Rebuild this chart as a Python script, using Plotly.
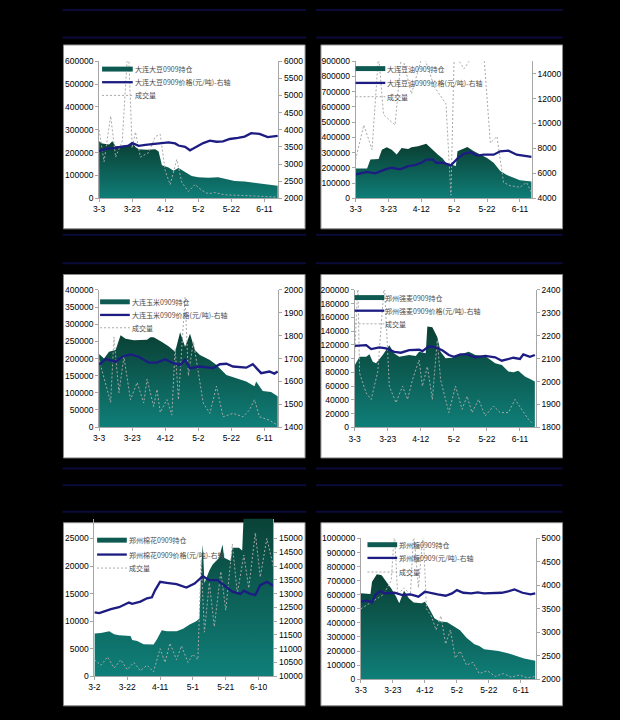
import plotly.graph_objects as go

# ---------------- data (2009, contract 0909) ----------------
X_TICKS = ["3-3", "3-23", "4-12", "5-2", "5-22", "6-11"]
X_TICKS_COTTON = ["3-2", "3-22", "4-11", "5-1", "5-21", "6-10"]

# 大连大豆
SOY_OI_DATES = ["3-3", "3-5", "3-9", "3-11", "3-13", "3-17", "3-20", "3-23", "3-25", "3-27", "4-1", "4-6", "4-8",
                "4-10", "4-14", "4-17", "4-20", "4-24", "4-28", "5-2", "5-8", "5-14", "5-18", "5-24", "5-30", "6-5",
                "6-10", "6-15", "6-19"]
SOY_OI = [250000, 240000, 235000, 250000, 228000, 230000, 232000, 242000, 225000, 215000, 212000, 215000, 205000,
          145000, 135000, 120000, 132000, 115000, 98000, 92000, 90000, 92000, 85000, 76000, 73000, 68000,
          62000, 58000, 55000]
SOY_PX_DATES = ["3-3", "3-8", "3-13", "3-17", "3-21", "3-23", "3-27", "3-31", "4-4", "4-8", "4-14", "4-18", "4-20",
                "4-24", "4-27", "4-29", "5-2", "5-5", "5-9", "5-13", "5-17", "5-21", "5-26", "5-30", "6-3", "6-8",
                "6-13", "6-19"]
SOY_PX = [3380, 3450, 3470, 3500, 3540, 3610, 3530, 3560, 3580, 3610, 3630, 3600, 3540,
          3500, 3400, 3450, 3530, 3610, 3680, 3650, 3660, 3730, 3760, 3800, 3900, 3880,
          3785, 3820]
SOY_VOL_DATES = ["3-3", "3-6", "3-10", "3-13", "3-17", "3-20", "3-21", "3-23", "3-25", "3-28", "4-2", "4-6", "4-9",
                 "4-12", "4-15", "4-19", "4-22", "4-26", "4-30", "5-4", "5-8", "5-12", "5-18", "5-24", "5-30",
                 "6-5", "6-11", "6-19"]
SOY_VOL = [300000, 160000, 360000, 180000, 250000, 610000, 610000, 220000, 290000, 180000, 200000, 270000, 280000,
           120000, 60000, 170000, 70000, 30000, 60000, 35000, 20000, 25000, 15000, 15000, 12000,
           10000, 8000, 5000]

# 大连豆油
SOYOIL_OI_DATES = ["3-3", "3-10", "3-12", "3-17", "3-19", "3-22", "3-25", "3-28", "3-31", "4-4", "4-6", "4-10",
                   "4-15", "4-18", "4-22", "4-25", "4-27", "4-30", "5-3", "5-4", "5-10", "5-14", "5-18", "5-22",
                   "5-26", "5-30", "6-3", "6-7", "6-11", "6-18"]
SOYOIL_OI = [196000, 196000, 254000, 258000, 319000, 335000, 319000, 287000, 330000, 323000, 335000, 341000,
             358000, 326000, 287000, 261000, 233000, 222000, 212000, 309000, 337000, 309000, 287000, 265000,
             233000, 179000, 153000, 136000, 118000, 110000]
SOYOIL_PX_DATES = ["3-3", "3-10", "3-15", "3-21", "3-25", "3-30", "4-4", "4-8", "4-12", "4-15", "4-19", "4-21",
                   "4-25", "4-30", "5-4", "5-8", "5-12", "5-16", "5-20", "5-26", "5-30", "6-4", "6-9", "6-14", "6-18"]
SOYOIL_PX = [5920, 6110, 6000, 6320, 6450, 6320, 6580, 6660, 6850, 7110, 7110, 6850,
             6850, 6640, 7190, 7580, 7690, 7430, 7500, 7500, 7770, 7820, 7500, 7430, 7320]
SOYOIL_VOL_DATES = ["3-3", "3-8", "3-13", "3-17", "3-20", "3-27", "3-31", "4-6", "4-13", "4-20", "4-27", "4-30",
                    "5-2", "5-8", "5-14", "5-20", "5-24", "5-28", "6-1", "6-5", "6-11", "6-15", "6-18"]
SOYOIL_VOL = [254000, 481000, 319000, 950000, 550000, 481000, 950000, 686000, 950000, 730000, 620000, 20000,
              950000, 850000, 950000, 950000, 363000, 406000, 104000, 83000, 72000, 104000, 39000]

# 大连玉米
CORN_OI_DATES = ["3-3", "3-6", "3-9", "3-13", "3-16", "3-19", "3-24", "3-29", "4-1", "4-3", "4-5", "4-10", "4-14",
                 "4-18", "4-21", "4-24", "4-27", "4-30", "5-3", "5-9", "5-13", "5-19", "5-25", "5-31", "6-5", "6-6",
                 "6-10", "6-15", "6-19"]
CORN_OI = [213000, 200000, 220000, 225000, 268000, 258000, 253000, 253000, 255000, 262000, 262000, 248000, 236000,
           220000, 277000, 234000, 272000, 224000, 210000, 196000, 181000, 152000, 143000, 133000, 119000, 133000,
           105000, 102000, 90000]
CORN_PX_DATES = ["3-3", "3-7", "3-13", "3-17", "3-22", "3-27", "4-2", "4-7", "4-12", "4-16", "4-21", "4-24", "4-27",
                 "5-3", "5-11", "5-15", "5-19", "5-23", "5-31", "6-4", "6-9", "6-14", "6-17", "6-19"]
CORN_PX = [1672, 1697, 1686, 1708, 1718, 1708, 1682, 1682, 1697, 1682, 1672, 1694, 1658,
           1665, 1658, 1675, 1677, 1665, 1660, 1675, 1636, 1643, 1634, 1643]
CORN_VOL_DATES = ["3-3", "3-10", "3-12", "3-15", "3-18", "3-22", "3-26", "3-30", "4-1", "4-5", "4-7", "4-9", "4-13",
                  "4-16", "4-18", "4-20", "4-24", "4-26", "4-29", "5-5", "5-9", "5-13", "5-17", "5-23", "5-29",
                  "6-2", "6-5", "6-8", "6-14", "6-19"]
CORN_VOL = [196000, 72000, 263000, 100000, 205000, 80000, 130000, 70000, 140000, 60000, 110000, 43000, 80000,
            35000, 230000, 80000, 378000, 150000, 250000, 70000, 40000, 119000, 30000, 40000, 30000,
            50000, 80000, 30000, 20000, 5000]

# 郑州强麦
WHEAT_OI_DATES = ["3-3", "3-6", "3-10", "3-12", "3-14", "3-16", "3-20", "3-24", "3-27", "3-30", "4-5", "4-9",
                  "4-11", "4-15", "4-16", "4-19", "4-22", "4-24", "4-27", "5-1", "5-5", "5-11", "5-15", "5-21",
                  "5-27", "5-31", "6-4", "6-7", "6-10", "6-14", "6-18", "6-20"]
WHEAT_OI = [90000, 102800, 102800, 106300, 95600, 93300, 105300, 119600, 107700, 102800, 105300, 104000,
            110000, 108000, 146900, 145600, 131500, 110000, 100500, 101200, 105300, 110000, 105300, 104000,
            93300, 90900, 81300, 80300, 82300, 74100, 69400, 66900]
WHEAT_PX_DATES = ["3-3", "3-10", "3-13", "3-18", "3-22", "3-27", "3-31", "4-5", "4-11", "4-13", "4-17", "4-21",
                  "4-25", "4-29", "5-2", "5-6", "5-10", "5-15", "5-21", "5-27", "5-31", "6-4", "6-7", "6-11",
                  "6-13", "6-17", "6-20"]
WHEAT_PX = [2156, 2159, 2142, 2149, 2145, 2130, 2126, 2137, 2139, 2133, 2154, 2149,
            2137, 2116, 2108, 2119, 2119, 2106, 2112, 2106, 2091, 2097, 2104, 2099,
            2119, 2108, 2116]
WHEAT_VOL_DATES = ["3-3", "3-5", "3-6", "3-10", "3-13", "3-17", "3-21", "3-24", "3-28", "4-1", "4-4", "4-7",
                   "4-11", "4-13", "4-16", "4-19", "4-22", "4-24", "4-29", "5-3", "5-7", "5-10", "5-13", "5-17",
                   "5-21", "5-26", "5-30", "6-4", "6-8", "6-12", "6-16", "6-19"]
WHEAT_VOL = [103000, 210000, 79000, 50000, 40600, 81000, 210000, 60000, 35900, 60000, 40600, 69400,
             98000, 60000, 88500, 40600, 127000, 69400, 21500, 60000, 26300, 45400, 21500, 40600,
             16700, 31000, 21500, 21500, 40600, 26300, 12000, 4700]

# 郑州棉花
COTTON_OI_DATES = ["3-2", "3-6", "3-11", "3-14", "3-17", "3-24", "3-25", "3-28", "4-1", "4-7", "4-9", "4-12",
                   "4-15", "4-21", "4-25", "4-29", "5-3", "5-5", "5-6", "5-7", "5-8", "5-11", "5-13", "5-17",
                   "5-19", "5-20", "5-24", "5-25", "5-29", "5-31", "6-1", "6-19"]
COTTON_OI = [7770, 7830, 8180, 7600, 7430, 7290, 6570, 6400, 5800, 5740, 6660, 8360,
             8180, 8180, 8600, 9380, 9970, 10460, 19800, 23900, 16900, 19200, 20300, 21500,
             23900, 21500, 20900, 23300, 23300, 22800, 30000, 30000]
COTTON_PX_DATES = ["3-2", "3-5", "3-8", "3-12", "3-17", "3-23", "3-25", "3-30", "4-3", "4-6", "4-8", "4-11",
                   "4-15", "4-21", "4-27", "5-2", "5-7", "5-11", "5-16", "5-20", "5-25", "5-30", "6-1", "6-5",
                   "6-8", "6-11", "6-15", "6-19"]
COTTON_PX = [12316, 12290, 12352, 12434, 12506, 12674, 12628, 12710, 12828, 12864, 13129, 13426,
             13390, 13344, 13222, 13365, 13630, 13487, 13487, 13308, 13068, 12986, 13104, 12986,
             12950, 13308, 13426, 13283]
COTTON_VOL_DATES = ["3-2", "3-6", "3-10", "3-14", "3-18", "3-22", "3-26", "3-30", "4-3", "4-7", "4-11", "4-14",
                    "4-17", "4-21", "4-24", "4-28", "5-1", "5-4", "5-6", "5-8", "5-11", "5-14", "5-18", "5-21",
                    "5-25", "5-28", "6-1", "6-4", "6-8", "6-11", "6-15", "6-19"]
COTTON_VOL = [3000, 2000, 3500, 1500, 3000, 1200, 2500, 1000, 2000, 800, 5000, 2500,
              6000, 3000, 5500, 2500, 4000, 3000, 21000, 8000, 17000, 9000, 19000, 12000,
              24000, 15000, 22000, 16000, 26000, 18000, 25000, 20000]

# 郑州糖
SUGAR_OI_DATES = ["3-3", "3-9", "3-10", "3-13", "3-16", "3-19", "3-22", "3-25", "3-27", "3-29", "3-30", "4-2",
                  "4-5", "4-10", "4-12", "4-14", "4-18", "4-21", "4-26", "4-30", "5-4", "5-8", "5-13", "5-16",
                  "5-19", "5-28", "6-5", "6-13", "6-20"]
SUGAR_OI = [610000, 605000, 692000, 745000, 738000, 692000, 645000, 587000, 540000, 600000, 628000, 575000,
            545000, 540000, 551000, 516000, 434000, 411000, 404000, 376000, 348000, 294000, 248000, 236000,
            213000, 201000, 178000, 147000, 131000]
SUGAR_PX_DATES = ["3-3", "3-7", "3-10", "3-12", "3-15", "3-18", "3-24", "3-29", "4-3", "4-8", "4-12", "4-16",
                  "4-20", "4-25", "4-29", "5-2", "5-6", "5-11", "5-15", "5-19", "5-25", "5-30", "6-3", "6-7",
                  "6-12", "6-17", "6-20"]
SUGAR_PX = [3654, 3675, 3640, 3795, 3879, 3830, 3843, 3795, 3810, 3760, 3865, 3830,
            3810, 3780, 3830, 3900, 3843, 3830, 3850, 3830, 3830, 3843, 3871, 3913,
            3843, 3810, 3830]
SUGAR_VOL_DATES = ["3-3", "3-10", "3-17", "3-22", "3-24", "3-26", "3-30", "4-3", "4-5", "4-8", "4-11", "4-13",
                   "4-16", "4-19", "4-22", "4-25", "4-28", "5-1", "5-4", "5-8", "5-12", "5-16", "5-21", "5-26",
                   "5-31", "6-5", "6-10", "6-15", "6-20"]
SUGAR_VOL = [500000, 550000, 600000, 700000, 1050000, 600000, 650000, 600000, 1050000, 650000, 1050000, 500000,
             450000, 350000, 450000, 250000, 350000, 150000, 200000, 100000, 120000, 40000, 60000, 20000,
             40000, 15000, 30000, 10000, 20000]

OI_NAMES = ["大连大豆0909持仓", "大连豆油0909持仓", "大连玉米0909持仓",
            "郑州强麦0909持仓", "郑州棉花0909持仓", "郑州糖0909持仓"]
PX_NAMES = ["大连大豆0909价格(元/吨)-右轴", "大连豆油0909价格(元/吨)-右轴", "大连玉米0909价格(元/吨)-右轴",
            "郑州强麦0909价格(元/吨)-右轴", "郑州棉花0909价格(元/吨)-右轴", "郑州糖0909(元/吨)-右轴"]
VOL_NAME = "成交量"

SERIES = [
    (SOY_OI_DATES, SOY_OI, SOY_PX_DATES, SOY_PX, SOY_VOL_DATES, SOY_VOL),
    (SOYOIL_OI_DATES, SOYOIL_OI, SOYOIL_PX_DATES, SOYOIL_PX, SOYOIL_VOL_DATES, SOYOIL_VOL),
    (CORN_OI_DATES, CORN_OI, CORN_PX_DATES, CORN_PX, CORN_VOL_DATES, CORN_VOL),
    (WHEAT_OI_DATES, WHEAT_OI, WHEAT_PX_DATES, WHEAT_PX, WHEAT_VOL_DATES, WHEAT_VOL),
    (COTTON_OI_DATES, COTTON_OI, COTTON_PX_DATES, COTTON_PX, COTTON_VOL_DATES, COTTON_VOL),
    (SUGAR_OI_DATES, SUGAR_OI, SUGAR_PX_DATES, SUGAR_PX, SUGAR_VOL_DATES, SUGAR_VOL),
]


def iso(lst):
    out = []
    for s in lst:
        m, d = s.split("-")
        out.append(f"2009-{int(m):02d}-{int(d):02d}")
    return out


# ---------------- layout (pixel geometry) ----------------
W, H = 620, 720


def PX(x):
    return x / W


def PY(y):
    return 1 - y / H


LAYOUT = [
    dict(x=(94, 275), y=(57, 196), xend="2009-06-19 10:00", ticks=X_TICKS,
         yl=(0, 600000, 100000), yr=(2000, 6000), yrt=list(range(2000, 6001, 500)),
         leg=(97, 128, 129, (65, 78.3, 91.7)), box=(58, 40.5, 302, 227)),
    dict(x=(353, 531), y=(57, 196), xend="2009-06-18 06:00", ticks=X_TICKS,
         yl=(0, 900000, 100000), yr=(4000, 15000), yrt=list(range(4000, 14001, 2000)),
         leg=(353, 383, 384, (64.5, 79, 93)), box=(318, 40.5, 562, 227)),
    dict(x=(94, 275), y=(289, 428), xend="2009-06-19 10:00", ticks=X_TICKS,
         yl=(0, 400000, 50000), yr=(1400, 2000), yrt=list(range(1400, 2001, 100)),
         leg=(95, 125, 126, (301, 314.3, 327.3)), box=(58, 273.3, 302, 459.3)),
    dict(x=(352, 535), y=(289, 428.3), xend="2009-06-20 14:00", ticks=X_TICKS,
         yl=(0, 200000, 20000), yr=(1800, 2400), yrt=list(range(1800, 2401, 100)),
         leg=(352, 382, 382, (296.7, 310, 323.3)), box=(318, 273.3, 562, 459.3)),
    dict(x=(89.3, 270), y=(521, 680.7), xend="2009-06-19 00:00", ticks=X_TICKS_COTTON,
         yl=(0, 28580, 5000), yr=(10000, 15716), yrt=list(range(10000, 15001, 500)),
         leg=(92, 122, 123, (542.7, 557.3, 571)), box=(58, 525, 302, 710.7)),
    dict(x=(358.3, 535), y=(541, 683.7), xend="2009-06-20 08:00", ticks=X_TICKS,
         yl=(0, 1000000, 100000), yr=(2000, 5000), yrt=list(range(2000, 5001, 500)),
         leg=(365, 395, 396, (547.3, 560.7, 575)), box=(318, 525, 562, 710.7)),
]

FILL_BOTTOM = "#0f807a"
FILL_TOP = "#0a3f33"
SWATCH = "#0e5a52"
PRICE_COLOR = "#1c1c82"
VOL_COLOR = "#a8a8a8"
AXIS_COLOR = "#a6a6a6"
TICK_FONT = dict(family="Liberation Sans, Arial, sans-serif", size=8.5, color="#000000")
LEG_FONT = dict(family="Noto Sans CJK SC, sans-serif", size=7, color="#4a4a4a")

fig = go.Figure()
layout = dict(
    width=W, height=H, margin=dict(l=0, r=0, t=0, b=0),
    paper_bgcolor="#000000", plot_bgcolor="rgba(0,0,0,0)",
    showlegend=False, shapes=[], annotations=[],
)

for i, (spec, ser) in enumerate(zip(LAYOUT, SERIES), start=1):
    oi_d, oi, px_d, px, vol_d, vol = ser
    xid = "x" if i == 1 else f"x{i}"
    ylid = "y" if i == 1 else f"y{2 * i - 1}"
    yrid = f"y{2 * i}"
    m0, d0 = spec["ticks"][0].split("-")
    xstart = f"2009-{int(m0):02d}-{int(d0):02d}"

    fig.add_trace(go.Scatter(
        x=iso(oi_d), y=oi, xaxis=xid, yaxis=ylid, mode="lines",
        line=dict(width=0, color=FILL_TOP), fill="tozeroy",
        fillgradient=dict(type="vertical", colorscale=[[0, FILL_BOTTOM], [1, FILL_TOP]],
                          start=0, stop=max(oi)),
        name=OI_NAMES[i - 1], hoverinfo="skip"))
    fig.add_trace(go.Scatter(
        x=iso(vol_d), y=vol, xaxis=xid, yaxis=ylid, mode="lines",
        line=dict(width=1, color=VOL_COLOR, dash="2px,2px"),
        name=VOL_NAME, hoverinfo="skip"))
    fig.add_trace(go.Scatter(
        x=iso(px_d), y=px, xaxis=xid, yaxis=yrid, mode="lines",
        line=dict(width=2.3, color=PRICE_COLOR),
        name=PX_NAMES[i - 1], hoverinfo="skip"))

    xdom = [PX(spec["x"][0]), PX(spec["x"][1])]
    ydom = [PY(spec["y"][1]), PY(spec["y"][0])]
    axkey = "xaxis" if i == 1 else f"xaxis{i}"
    ylkey = "yaxis" if i == 1 else f"yaxis{2 * i - 1}"
    yrkey = f"yaxis{2 * i}"

    layout[axkey] = dict(
        domain=xdom, anchor=ylid, type="date", range=[xstart, spec["xend"]],
        tickmode="array", tickvals=iso(spec["ticks"]), ticktext=spec["ticks"],
        showline=True, linecolor=AXIS_COLOR, linewidth=1, ticks="outside", ticklen=3,
        tickcolor=AXIS_COLOR, tickfont=TICK_FONT, showgrid=False, zeroline=False,
        ticklabelstandoff=0, fixedrange=True)
    lo, hi, dt = spec["yl"]
    layout[ylkey] = dict(
        domain=ydom, anchor=xid, range=[lo, hi], tickmode="linear", tick0=0, dtick=dt,
        tickformat="d", showline=True, linecolor=AXIS_COLOR, linewidth=1, ticks="outside",
        ticklen=3, tickcolor=AXIS_COLOR, tickfont=TICK_FONT, showgrid=False, zeroline=False,
        fixedrange=True)
    layout[yrkey] = dict(
        overlaying=ylid, side="right", anchor=xid, range=list(spec["yr"]), tickmode="array",
        tickvals=spec["yrt"], tickformat="d", showline=True, linecolor=AXIS_COLOR, linewidth=1,
        ticks="outside", ticklen=3, tickcolor=AXIS_COLOR, tickfont=TICK_FONT, showgrid=False,
        zeroline=False, fixedrange=True)

    # white chart-area box
    bx0, by0, bx1, by1 = spec["box"]
    layout["shapes"].append(dict(
        type="rect", xref="paper", yref="paper", x0=PX(bx0), x1=PX(bx1), y0=PY(by1), y1=PY(by0),
        fillcolor="#ffffff", line=dict(color="#8a8a8a", width=1), layer="below"))

    # legend (Excel-style, compact rows)
    sx0, sx1, tx, rows = spec["leg"]
    r0, r1, r2 = rows
    layout["shapes"].append(dict(
        type="rect", xref="paper", yref="paper", x0=PX(sx0), x1=PX(sx1),
        y0=PY(r0 + 2.5), y1=PY(r0 - 2.5), fillcolor=SWATCH, line=dict(width=0), layer="above"))
    layout["shapes"].append(dict(
        type="line", xref="paper", yref="paper", x0=PX(sx0), x1=PX(sx1), y0=PY(r1), y1=PY(r1),
        line=dict(color=PRICE_COLOR, width=2.3), layer="above"))
    layout["shapes"].append(dict(
        type="line", xref="paper", yref="paper", x0=PX(sx0), x1=PX(sx1), y0=PY(r2), y1=PY(r2),
        line=dict(color=VOL_COLOR, width=1, dash="2px,2px"), layer="above"))
    for txt, ry in zip([OI_NAMES[i - 1], PX_NAMES[i - 1], VOL_NAME], rows):
        layout["annotations"].append(dict(
            text=txt, xref="paper", yref="paper", x=PX(tx), y=PY(ry), xanchor="left",
            yanchor="middle", showarrow=False, font=LEG_FONT, borderpad=0))

# dark navy header rules above the panels
HEADER_RULES_Y = [5, 33, 233, 262, 470, 487, 514]
for yy in HEADER_RULES_Y:
    for xa, xb in [(57, 303), (313, 562)]:
        layout["shapes"].append(dict(
            type="line", xref="paper", yref="paper", x0=PX(xa), x1=PX(xb), y0=PY(yy), y1=PY(yy),
            line=dict(color="#0b0b3a", width=2), layer="below"))

fig.update_layout(**layout)
fig.write_html("out.html", config=dict(displayModeBar=False, staticPlot=True))
